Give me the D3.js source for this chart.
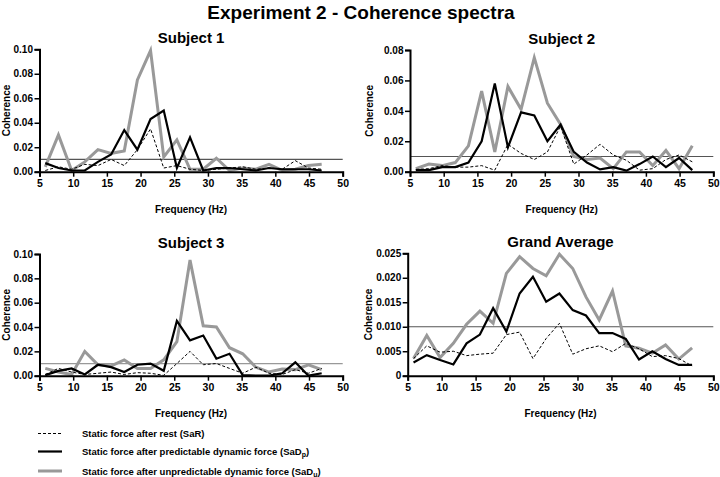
<!DOCTYPE html>
<html><head><meta charset="utf-8">
<script src="https://cdn.jsdelivr.net/npm/d3@7"></script>
<style>body{margin:0;background:#fff}text{font-family:"Liberation Sans",Arial,sans-serif;font-weight:bold}</style>
</head><body><svg id="c" width="720" height="477"></svg>
<script>
const freqs = [5.86,7.81,9.77,11.72,13.67,15.63,17.58,19.53,21.48,23.44,25.39,27.34,29.30,31.25,33.20,35.16,37.11,39.06,41.02,42.97,44.92,46.88];
const xTicks = [5,10,15,20,25,30,35,40,45,50];
const threshold = 0.01;

const s1SaR  = [0.001,0.004,0.002,0.006,0.005,0.010,0.005,0.018,0.035,0.003,0.005,0.002,0.001,0.002,0.003,0.004,0.002,0.003,0.002,0.009,0.003,0.002];
const s1SaDp = [0.007,0.003,0.001,0.001,0.008,0.014,0.034,0.018,0.043,0.050,0.003,0.028,0.001,0.003,0.003,0.002,0.001,0.003,0.002,0.002,0.002,0.001];
const s1SaDu = [0.004,0.030,0.001,0.008,0.018,0.015,0.017,0.075,0.099,0.012,0.026,0.002,0.002,0.011,0.001,0.003,0.002,0.006,0.001,0.002,0.005,0.006];

const s2SaR  = [0.0015,0.002,0.004,0.003,0.003,0.004,0.001,0.018,0.012,0.008,0.013,0.030,0.005,0.011,0.018,0.011,0.0075,0.001,0.002,0.008,0.011,0.0065];
const s2SaDp = [0.001,0.001,0.003,0.003,0.006,0.020,0.058,0.016,0.039,0.037,0.020,0.031,0.013,0.006,0.0015,0.003,0.0007,0.005,0.010,0.003,0.009,0.001];
const s2SaDu = [0.002,0.005,0.004,0.006,0.017,0.053,0.013,0.056,0.041,0.075,0.045,0.031,0.010,0.008,0.009,0.002,0.013,0.013,0.004,0.014,0.002,0.017];

const s3SaR  = [0.001,0.006,0.003,0.001,0.002,0.003,0.001,0.0025,0.002,0.0003,0.010,0.020,0.009,0.010,0.006,0.002,0.007,0.002,0.001,0.005,0.002,0.006];
const s3SaDp = [0.0005,0.004,0.006,0.001,0.009,0.007,0.003,0.009,0.010,0.004,0.045,0.029,0.033,0.014,0.018,0.0005,0,0,0.002,0.011,0,0.002];
const s3SaDu = [0.006,0.003,0.001,0.020,0.009,0.008,0.013,0.006,0.006,0.013,0.028,0.095,0.041,0.040,0.023,0.018,0.007,0.003,0.0055,0.005,0.009,0.005];

const gaSaR  = [0.0035,0.0061,0.0048,0.0050,0.0041,0.0044,0.0046,0.0084,0.0089,0.0035,0.0076,0.0107,0.0044,0.0055,0.0061,0.0049,0.0066,0.0055,0.0039,0.0041,0.0035,0.0020];
const gaSaDp = [0.0027,0.0042,0.0032,0.0023,0.0066,0.0084,0.0138,0.0090,0.0168,0.0202,0.0151,0.0168,0.0134,0.0123,0.0087,0.0087,0.0075,0.0033,0.0050,0.0034,0.0022,0.0022];
const gaSaDu = [0.0035,0.0082,0.0037,0.0066,0.0105,0.0132,0.0107,0.0209,0.0243,0.0219,0.0204,0.0248,0.0219,0.0161,0.0114,0.0173,0.0061,0.0056,0.0046,0.0063,0.0034,0.0057];

const yTicks1 = [0,0.02,0.04,0.06,0.08,0.10];
const yTicks2 = [0,0.02,0.04,0.06,0.08];
const yTicksGA = [0,0.005,0.010,0.015,0.020,0.025];

const legendLabels = ["Static force after rest (SaR)","Static force after predictable dynamic force (SaD","Static force after unpredictable dynamic force (SaD"];
const legendSubs = ["","p","u"];

const svg = d3.select("#c");
const styles = [
  {stroke:"#000", width:1, dash:"3,2"},
  {stroke:"#000", width:2.2, dash:null},
  {stroke:"#999", width:3, dash:null}
];

svg.append("text").attr("x",361).attr("y",19).attr("text-anchor","middle").attr("font-size",19).text("Experiment 2 - Coherence spectra");

function panel(cfg){
  const x = d3.scaleLinear().domain([5,50]).range([cfg.x0,cfg.x1]);
  const y = d3.scaleLinear().domain([0,cfg.ymax]).range([cfg.y0,cfg.y1]);
  const g = svg.append("g");
  g.append("text").attr("x",(cfg.x0+cfg.x1)/2).attr("y",cfg.y1-6).attr("text-anchor","middle").attr("font-size",15).text(cfg.title);
  g.append("line").attr("x1",cfg.x0).attr("x2",cfg.x1).attr("y1",y(threshold)).attr("y2",y(threshold))
    .attr("stroke",cfg.thrColor).attr("stroke-width",1.2);
  const line = d3.line().x((d,i)=>x(freqs[i])).y(d=>y(d));
  [cfg.saDu,cfg.saDp,cfg.saR].forEach((arr,k)=>{
    const st = styles[2-k];
    g.append("path").datum(arr).attr("d",line).attr("fill","none").attr("stroke",st.stroke)
     .attr("stroke-width",st.width).attr("stroke-dasharray",st.dash).attr("stroke-linejoin","miter");
  });
  const xa = g.append("g").attr("transform",`translate(0,${cfg.y0})`)
    .call(d3.axisBottom(x).tickValues(xTicks).tickSize(5).tickFormat(d3.format("d")));
  const ya = g.append("g").attr("transform",`translate(${cfg.x0},0)`)
    .call(d3.axisLeft(y).tickValues(cfg.yticks).tickSize(5).tickPadding(1.5).tickFormat(cfg.fmt));
  [xa,ya].forEach(a=>{
    a.select(".domain").attr("stroke","#000").attr("stroke-width",2);
    a.selectAll(".tick line").attr("stroke","#000").attr("stroke-width",1.5);
    a.selectAll(".tick text").attr("font-size",10.5).attr("font-family","Liberation Sans, Arial").attr("font-weight","bold").attr("fill","#000");
  });
  ya.selectAll(".tick text").attr("font-size",10);
  g.append("text").attr("transform",`translate(${cfg.labX},${(cfg.y0+cfg.y1)/2}) rotate(-90)`)
    .attr("text-anchor","middle").attr("font-size",10).text("Coherence");
  g.append("text").attr("x",(cfg.x0+cfg.x1)/2).attr("y",cfg.y0+41).attr("text-anchor","middle").attr("font-size",10).text("Frequency (Hz)");
}

panel({title:"Subject 1",x0:39.5,x1:342.7,y0:171.7,y1:49.3,ymax:0.10,yticks:yTicks1,fmt:d3.format(".2f"),saR:s1SaR,saDp:s1SaDp,saDu:s1SaDu,thrColor:"#555",labX:9.5});
panel({title:"Subject 2",x0:410,x1:713.3,y0:171.7,y1:50,ymax:0.08,yticks:yTicks2,fmt:d3.format(".2f"),saR:s2SaR,saDp:s2SaDp,saDu:s2SaDu,thrColor:"#555",labX:373});
panel({title:"Subject 3",x0:39.5,x1:342.7,y0:375.7,y1:254,ymax:0.10,yticks:yTicks1,fmt:d3.format(".2f"),saR:s3SaR,saDp:s3SaDp,saDu:s3SaDu,thrColor:"#999",labX:9.5});
panel({title:"Grand Average",x0:407.7,x1:713.3,y0:375.7,y1:253.3,ymax:0.025,yticks:yTicksGA,fmt:d=>d===0?"0":d3.format(".3f")(d),saR:gaSaR,saDp:gaSaDp,saDu:gaSaDu,thrColor:"#555",labX:372});

const ly = [433.5,451.5,471];
styles.forEach((st,i)=>{
  svg.append("line").attr("x1",38).attr("x2",62).attr("y1",ly[i]).attr("y2",ly[i]).attr("stroke",st.stroke)
    .attr("stroke-width",st.width).attr("stroke-dasharray",st.dash);
  const t = svg.append("text").attr("x",82).attr("y",ly[i]+3.5).attr("font-size",9.5);
  t.append("tspan").text(legendLabels[i]);
  if(legendSubs[i]){
    t.append("tspan").attr("font-size",7).attr("dy",2).text(legendSubs[i]);
    t.append("tspan").attr("dy",-2).text(")");
  }
});
</script></body></html>
